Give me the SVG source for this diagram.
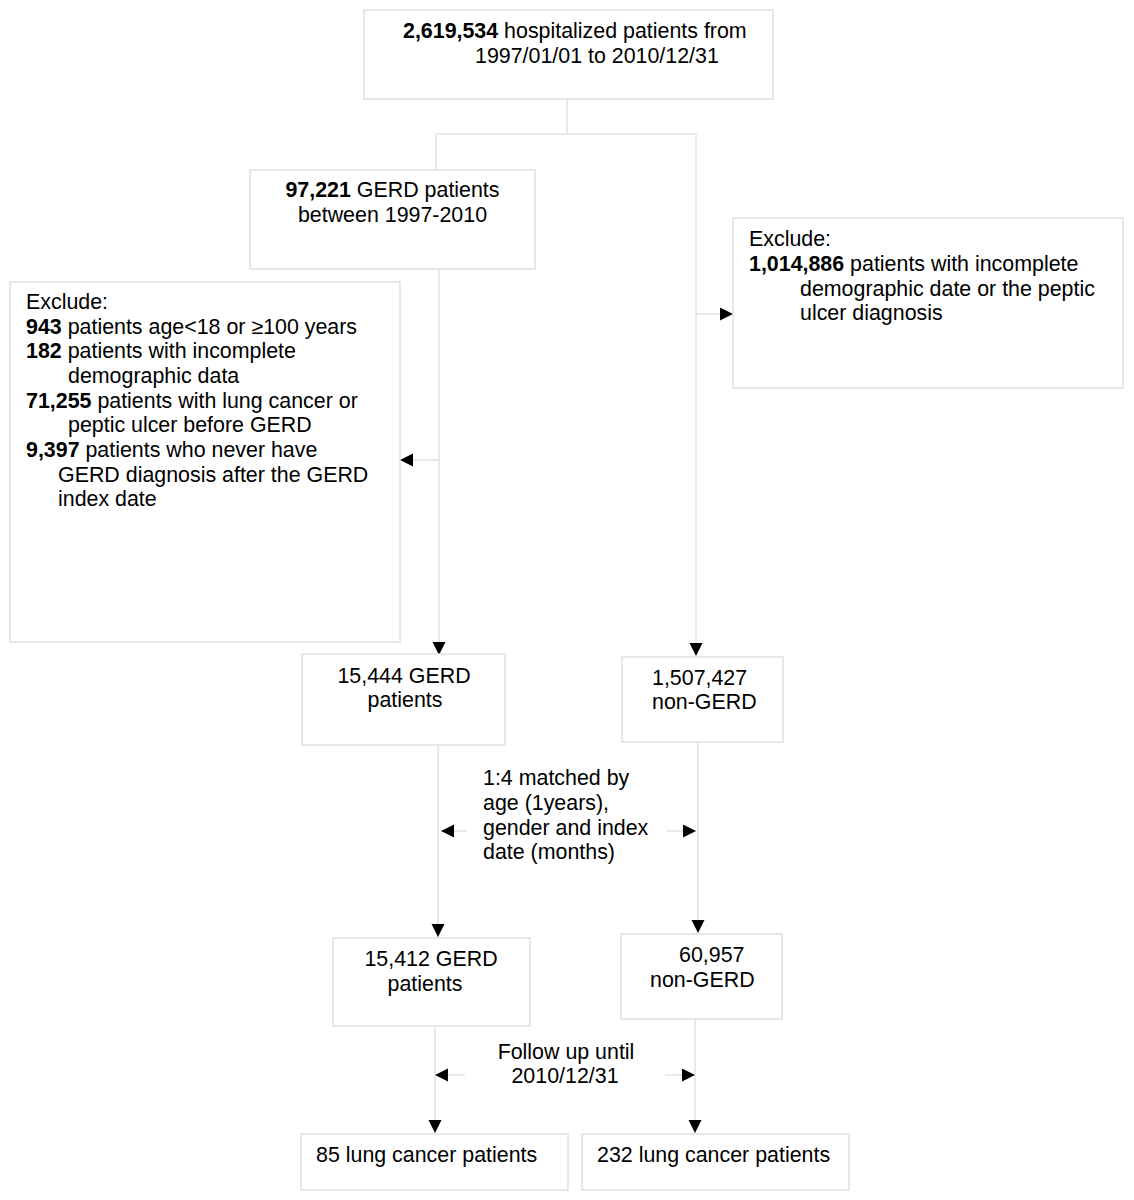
<svg xmlns="http://www.w3.org/2000/svg" width="1134" height="1200" viewBox="0 0 1134 1200">
<defs>
<style>
.box{fill:#ffffff;stroke:#e0e0e0;stroke-width:1.5}
.ln{fill:none;stroke:#e2e2e2;stroke-width:1.5}
text{font-family:"Liberation Sans",Arial,sans-serif;font-size:21.4px;fill:#000}
.b{font-weight:bold}
.c{text-anchor:middle}
</style>
<marker id="ah" markerUnits="userSpaceOnUse" markerWidth="14" markerHeight="14" refX="13" refY="6.5" orient="auto">
<path d="M0,0 L13,6.5 L0,13 z" fill="#000"/>
</marker>
</defs>
<rect width="1134" height="1200" fill="#ffffff"/>
<g id="connectors">
<polyline class="ln" points="567,99 567,134"/>
<polyline class="ln" points="436,170 436,134 696,134"/>
<line class="ln" x1="696" y1="134" x2="696" y2="656" marker-end="url(#ah)"/>
<line class="ln" x1="696" y1="314" x2="733" y2="314" marker-end="url(#ah)"/>
<line class="ln" x1="439" y1="269" x2="439" y2="655" marker-end="url(#ah)"/>
<line class="ln" x1="439" y1="460" x2="400" y2="460" marker-end="url(#ah)"/>
<line class="ln" x1="438" y1="745" x2="438" y2="937" marker-end="url(#ah)"/>
<line class="ln" x1="467" y1="831" x2="441" y2="831" marker-end="url(#ah)"/>
<line class="ln" x1="698" y1="742" x2="698" y2="933" marker-end="url(#ah)"/>
<line class="ln" x1="667" y1="831" x2="696" y2="831" marker-end="url(#ah)"/>
<line class="ln" x1="435" y1="1026" x2="435" y2="1133" marker-end="url(#ah)"/>
<line class="ln" x1="465" y1="1075" x2="435" y2="1075" marker-end="url(#ah)"/>
<line class="ln" x1="695" y1="1019" x2="695" y2="1133" marker-end="url(#ah)"/>
<line class="ln" x1="665" y1="1075" x2="695" y2="1075" marker-end="url(#ah)"/>
</g>
<g id="n-total">
<rect class="box" x="364" y="10" width="409" height="89"/>
<text x="403" y="38"><tspan class="b">2,619,534</tspan> hospitalized patients from</text>
<text x="475" y="63">1997/01/01 to 2010/12/31</text>
</g>
<g id="n-gerd">
<rect class="box" x="250" y="170" width="285" height="99"/>
<text class="c" x="392.5" y="197"><tspan class="b">97,221</tspan> GERD patients</text>
<text class="c" x="392.5" y="222">between 1997-2010</text>
</g>
<g id="n-exclude-left">
<rect class="box" x="10" y="282" width="390" height="360"/>
<text x="26" y="309">Exclude:</text>
<text x="26" y="334"><tspan class="b">943</tspan> patients age&lt;18 or ≥100 years</text>
<text x="26" y="358"><tspan class="b">182</tspan> patients with incomplete</text>
<text x="68" y="383">demographic data</text>
<text x="26" y="408"><tspan class="b">71,255</tspan> patients with lung cancer or</text>
<text x="68" y="432">peptic ulcer before GERD</text>
<text x="26" y="457"><tspan class="b">9,397</tspan> patients who never have</text>
<text x="58" y="482">GERD diagnosis after the GERD</text>
<text x="58" y="506">index date</text>
</g>
<g id="n-exclude-right">
<rect class="box" x="733" y="218" width="390" height="170"/>
<text x="749" y="246">Exclude:</text>
<text x="749" y="271"><tspan class="b">1,014,886</tspan> patients with incomplete</text>
<text x="800" y="296">demographic date or the peptic</text>
<text x="800" y="320">ulcer diagnosis</text>
</g>
<g id="n-gerd15444">
<rect class="box" x="302" y="654" width="203" height="91"/>
<text class="c" x="404" y="683">15,444 GERD</text>
<text class="c" x="405" y="707">patients</text>
</g>
<g id="n-nongerd1507427">
<rect class="box" x="622" y="657" width="161" height="85"/>
<text x="652" y="685">1,507,427</text>
<text x="652" y="709">non-GERD</text>
</g>
<g id="l-match">
<text x="483" y="785">1:4 matched by</text>
<text x="483" y="810">age (1years),</text>
<text x="483" y="835">gender and index</text>
<text x="483" y="859">date (months)</text>
</g>
<g id="n-gerd15412">
<rect class="box" x="333" y="938" width="197" height="88"/>
<text class="c" x="431" y="966">15,412 GERD</text>
<text class="c" x="425" y="991">patients</text>
</g>
<g id="n-nongerd60957">
<rect class="box" x="621" y="934" width="161" height="85"/>
<text x="679" y="962">60,957</text>
<text x="650" y="987">non-GERD</text>
</g>
<g id="l-follow">
<text class="c" x="566" y="1059">Follow up until</text>
<text class="c" x="565" y="1083">2010/12/31</text>
</g>
<g id="n-lc85">
<rect class="box" x="301" y="1134" width="267" height="56"/>
<text x="316" y="1162">85 lung cancer patients</text>
</g>
<g id="n-lc232">
<rect class="box" x="582" y="1134" width="267" height="56"/>
<text x="597" y="1162">232 lung cancer patients</text>
</g>
</svg>
